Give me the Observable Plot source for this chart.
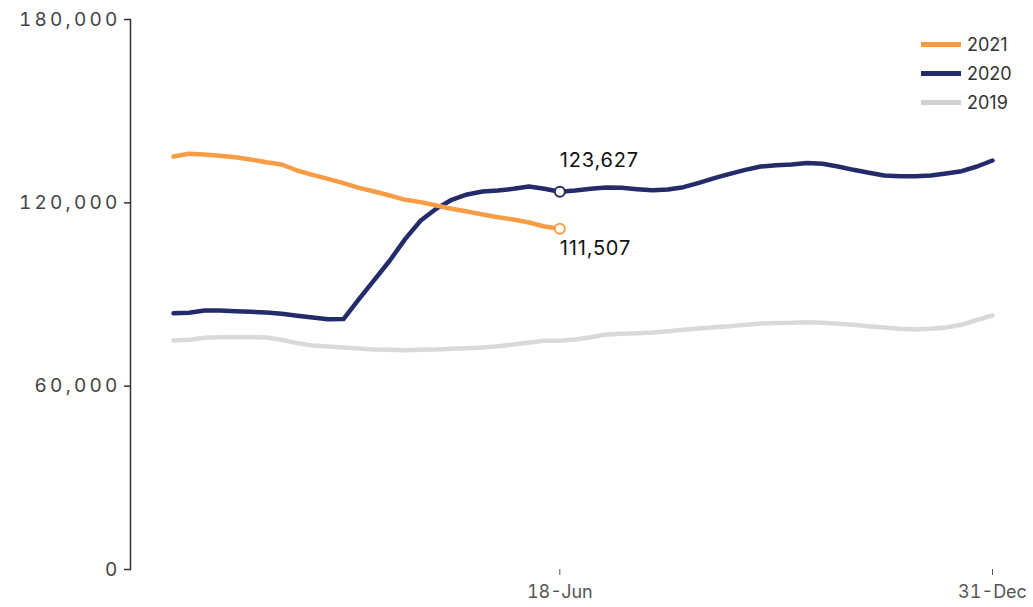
<!DOCTYPE html>
<html><head><meta charset="utf-8">
<script src="https://cdn.jsdelivr.net/npm/d3@7"></script>
<script src="https://cdn.jsdelivr.net/npm/@observablehq/plot@0.6"></script>
<style>
body{margin:0;background:#fff;}
#wrap{position:relative;width:1033px;height:607px;}
.legend{position:absolute;left:921px;top:30px;font-family:Inter,"Noto Sans",sans-serif;font-size:18px;color:#333;}
.legend .row{display:flex;align-items:center;height:29px;}
.legend .sw{display:inline-block;width:40px;height:5px;margin-right:6px;}
</style></head>
<body><div id="wrap"><div id="chart"></div><div class="legend" id="legend"></div></div>
<script>
const years = ["2021", "2020", "2019"];
const colors = ["#F89C45", "#242B6A", "#D9D9D9"];
const legendColors = ["#F89C45", "#242B6A", "#CFD0D0"];
const yTicks = [0, 60000, 120000, 180000];
const tickWeeks = [25, 53];
const tickLabels = ["18-Jun", "31-Dec"];

const values2021 = [135160, 136050, 135820, 135390, 134940, 134180, 133300, 132550, 130580, 129160,
  127850, 126430, 124910, 123710, 122400, 120990, 120230, 119130, 118040, 117160,
  116180, 115300, 114550, 113560, 112250, 111507];

const values2020 = [83880, 84000, 84760, 84760, 84540, 84320, 84100, 83670, 83020, 82470,
  81920, 81950, 88500, 94800, 101130, 108220, 114220, 118040, 120990, 122730,
  123710, 124040, 124590, 125350, 124590, 123627, 124040, 124590, 125020, 124910,
  124470, 124140, 124360, 125130, 126550, 128060, 129500, 130800, 131890, 132300,
  132550, 133000, 132770, 131890, 130800, 129830, 128950, 128730, 128730, 128950,
  129600, 130360, 131890, 133850];

const values2019 = [74950, 75170, 75820, 76030, 76030, 76030, 75930, 75170, 74080, 73310,
  72980, 72650, 72330, 72000, 71890, 71780, 71890, 72000, 72220, 72440,
  72650, 73090, 73640, 74290, 74840, 74900, 75270, 76030, 76910, 77130,
  77340, 77560, 77990, 78440, 78870, 79300, 79630, 80080, 80510, 80700,
  80730, 80950, 80730, 80400, 80080, 79630, 79200, 78770, 78550, 78770,
  79200, 80080, 81720, 83130];

const labelWeek = 25;
const labelYears = ["2020", "2021"];
const labelValues = [123627, 111507];

const seriesByYear = {"2021": values2021, "2020": values2020, "2019": values2019};
const data = [];
["2019", "2020", "2021"].forEach(y => seriesByYear[y].forEach((v, i) => data.push({year: y, week: i, value: v})));
const labels = labelYears.map((y, i) => ({year: y, week: labelWeek, value: labelValues[i]}));
const fmt = d3.format(",");
const textOpts = {x: "week", y: "value", text: d => fmt(d.value), textAnchor: "start",
  fontSize: 20, fontFamily: "Inter", fill: "#111"};

const chart = Plot.plot({
  width: 1033, height: 607,
  marginLeft: 130, marginRight: 41, marginTop: 19, marginBottom: 38,
  x: {domain: [0, 53], insetLeft: 43, axis: null},
  y: {domain: [0, 180000], axis: null},
  color: {domain: years, range: colors},
  style: {background: "#fff", overflow: "visible"},
  marks: [
    Plot.frame({anchor: "left", stroke: "#333", strokeWidth: 1.5}),
    Plot.axisY({ticks: yTicks, tickFormat: fmt, tickSize: 6, tickPadding: 4, label: null,
      fontSize: 19, fontFamily: "Inter", fill: "#444", stroke: "#333", strokeWidth: 1.5}),
    Plot.axisX({ticks: tickWeeks, tickFormat: (d, i) => tickLabels[i], tickSize: 6, tickPadding: 10, label: null,
      fontSize: 18, fontFamily: "Inter", fill: "#555", stroke: "#555"}),
    Plot.line(data, {x: "week", y: "value", z: "year", stroke: "year", strokeWidth: 4.5, strokeLinejoin: "round"}),
    Plot.dot(labels, {x: "week", y: "value", stroke: "year", fill: "white", r: 5, strokeWidth: 2}),
    Plot.text(labels.filter(d => d.year === "2020"), {...textOpts, dy: -31}),
    Plot.text(labels.filter(d => d.year === "2021"), {...textOpts, dy: 20})
  ]
});
document.getElementById("chart").append(chart);
chart.querySelectorAll("g[aria-label='y-axis tick label'] text").forEach(t => t.setAttribute("letter-spacing", "3.2"));
chart.querySelectorAll("g[aria-label='text'] text").forEach(t => t.setAttribute("letter-spacing", "0.8"));
const leg = document.getElementById("legend");
years.forEach((y, i) => {
  const r = document.createElement("div"); r.className = "row";
  r.innerHTML = `<span class="sw" style="background:${legendColors[i]}"></span><span>${y}</span>`;
  leg.append(r);
});
</script></body></html>
